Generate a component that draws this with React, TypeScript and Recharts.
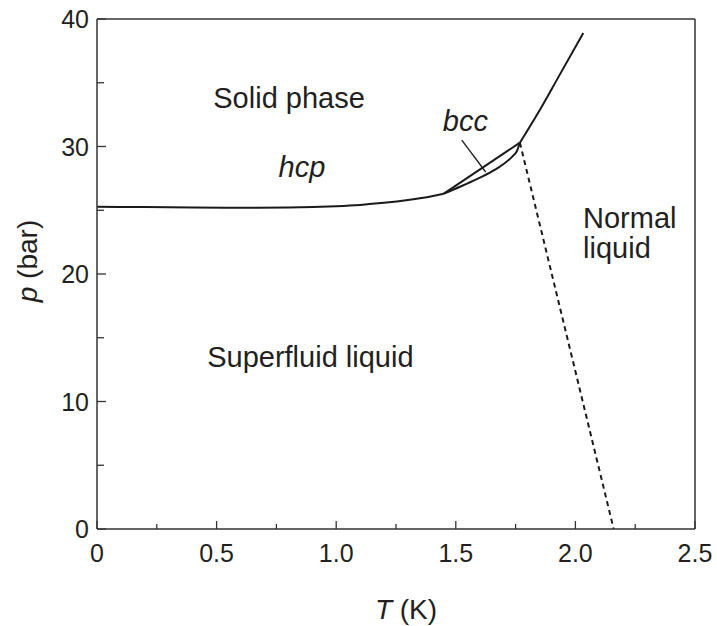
import { ComposedChart, Line, XAxis, YAxis, ReferenceLine, ReferenceDot, Label } from 'recharts'

// phase boundaries of 4He (T in K, p in bar)
const hcpT = [0, 0.2, 0.4, 0.6, 0.8, 1.0, 1.1, 1.2, 1.3, 1.4, 1.45]
const hcpP = [25.27, 25.25, 25.22, 25.2, 25.22, 25.32, 25.42, 25.58, 25.8, 26.1, 26.3]

const bccLiqT = [1.45, 1.52, 1.59, 1.65, 1.7, 1.735, 1.755, 1.768]
const bccLiqP = [26.3, 26.86, 27.46, 28.03, 28.63, 29.19, 29.63, 30.3]

const hcpBccT = [1.45, 1.768]
const hcpBccP = [26.3, 30.3]

const meltT = [1.768, 1.85, 1.93, 2.033]
const meltP = [30.3, 32.82, 35.48, 38.9]

const lambdaT = [1.768, 2.16]
const lambdaP = [30.3, 0]

const pointerT = [1.525, 1.625]
const pointerP = [30.5, 28.0]

const xMajorTicks = [0, 0.5, 1.0, 1.5, 2.0, 2.5]
const xMinorTicks = [0.25, 0.75, 1.25, 1.75, 2.25]
const yMajorTicks = [0, 10, 20, 30, 40]
const yMinorTicks = [5, 15, 25, 35]

const zip = (ts: number[], ps: number[]) => ts.map((T, i) => ({ T, p: ps[i] }))

const FONT = '"Liberation Sans", Arial, Helvetica, sans-serif'
const INK = '#231f20'
const AXIS = '#333'

const XTick = (props: any) => {
  const { x, y, payload } = props
  const v = payload.value
  const major = xMajorTicks.includes(v)
  return (
    <g>
      <line x1={x} y1={y} x2={x} y2={y - (major ? 8 : 5)} stroke={AXIS} strokeWidth={1.3} />
      {major && (
        <text x={x} y={y + 33} textAnchor="middle" fontSize={25} fontFamily={FONT} fill={INK}>
          {v === 0 ? '0' : v.toFixed(1)}
        </text>
      )}
    </g>
  )
}

const YTick = (props: any) => {
  const { x, y, payload } = props
  const v = payload.value
  const major = yMajorTicks.includes(v)
  return (
    <g>
      <line x1={x} y1={y} x2={x + (major ? 9 : 7)} y2={y} stroke={AXIS} strokeWidth={1.3} />
      {major && (
        <text x={x - 8} y={y + 9} textAnchor="end" fontSize={25} fontFamily={FONT} fill={INK}>
          {v}
        </text>
      )}
    </g>
  )
}

const note = (text: string, anchor: 'start' | 'middle' = 'middle', italic = false) =>
  (props: any) => {
    const vb = props.viewBox
    return (
      <text
        x={vb.x + vb.width / 2}
        y={vb.y + vb.height / 2}
        textAnchor={anchor}
        fontSize={29}
        fontStyle={italic ? 'italic' : 'normal'}
        fontFamily={FONT}
        fill={INK}
      >
        {text}
      </text>
    )
  }

const lineProps = {
  dataKey: 'p',
  dot: false,
  activeDot: false,
  isAnimationActive: false,
  stroke: '#1a1a1a',
  strokeWidth: 2,
  legendType: 'none' as const,
}

export default function App() {
  return (
    <div style={{ position: 'absolute', left: 0, top: 0, background: '#fff' }}>
      <ComposedChart width={717} height={626} margin={{ top: 19, right: 22, left: 0, bottom: 0 }}>
        <XAxis
          dataKey="T"
          type="number"
          domain={[0, 2.5]}
          allowDataOverflow
          ticks={[...xMajorTicks, ...xMinorTicks]}
          interval={0}
          tickSize={0}
          tickMargin={0}
          tickLine={false}
          tick={<XTick />}
          height={97}
          axisLine={{ stroke: AXIS, strokeWidth: 1.5 }}
        >
          <Label
            content={() => (
              <text x={406} y={619} textAnchor="middle" fontSize={28} fontFamily={FONT} fill={INK}>
                <tspan fontStyle="italic">T</tspan>
                <tspan> (K)</tspan>
              </text>
            )}
          />
        </XAxis>
        <YAxis
          type="number"
          domain={[0, 40]}
          allowDataOverflow
          ticks={[...yMajorTicks, ...yMinorTicks]}
          interval={0}
          tickSize={0}
          tickMargin={0}
          tickLine={false}
          tick={<YTick />}
          width={97}
          axisLine={{ stroke: AXIS, strokeWidth: 1.5 }}
        >
          <Label
            content={() => (
              <text
                x={37}
                y={261}
                transform="rotate(-90 37 261)"
                textAnchor="middle"
                fontSize={28}
                fontFamily={FONT}
                fill={INK}
              >
                <tspan fontStyle="italic">p</tspan>
                <tspan> (bar)</tspan>
              </text>
            )}
          />
        </YAxis>

        <ReferenceLine y={40} stroke={AXIS} strokeWidth={1.5} />
        <ReferenceLine x={2.5} stroke={AXIS} strokeWidth={1.5} />

        <Line {...lineProps} data={zip(hcpT, hcpP)} type="monotone" />
        <Line {...lineProps} data={zip(bccLiqT, bccLiqP)} type="monotone" />
        <Line {...lineProps} data={zip(hcpBccT, hcpBccP)} type="linear" />
        <Line {...lineProps} data={zip(meltT, meltP)} type="monotone" />
        <Line {...lineProps} data={zip(lambdaT, lambdaP)} type="linear" strokeDasharray="5 4" />
        <Line {...lineProps} data={zip(pointerT, pointerP)} type="linear" strokeWidth={1.3} />

        <ReferenceDot x={0.803} y={33.0} r={0} fill="none" stroke="none" label={{ content: note('Solid phase') }} />
        <ReferenceDot x={0.857} y={27.6} r={0} fill="none" stroke="none" label={{ content: note('hcp', 'middle', true) }} />
        <ReferenceDot x={1.54} y={31.2} r={0} fill="none" stroke="none" label={{ content: note('bcc', 'middle', true) }} />
        <ReferenceDot x={2.032} y={23.6} r={0} fill="none" stroke="none" label={{ content: note('Normal', 'start') }} />
        <ReferenceDot x={2.032} y={21.25} r={0} fill="none" stroke="none" label={{ content: note('liquid', 'start') }} />
        <ReferenceDot x={0.892} y={12.7} r={0} fill="none" stroke="none" label={{ content: note('Superfluid liquid') }} />
      </ComposedChart>
    </div>
  )
}
